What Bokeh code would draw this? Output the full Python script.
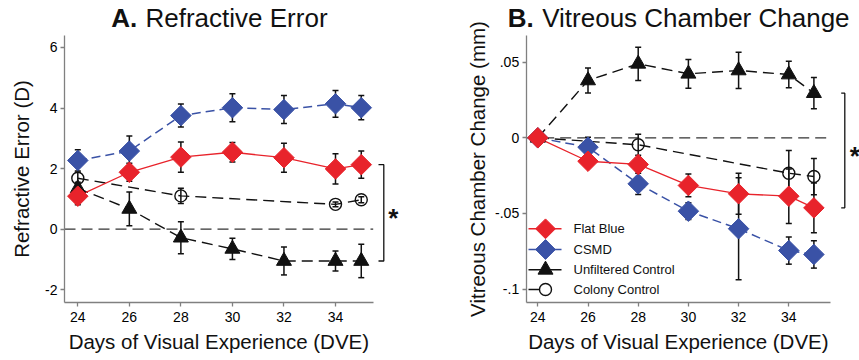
import math
from bokeh.plotting import figure
from bokeh.layouts import row
from bokeh.models import FixedTicker
from bokeh.embed import file_html
from bokeh.resources import INLINE
from bokeh.core.properties import value

# ---------------- data ----------------
days = [24, 26, 28, 30, 32, 34, 35]
colony_days = [24, 28, 34, 35]
x_ticks = [24, 26, 28, 30, 32, 34]

# A. Refractive error (D)
re_flat = [1.09, 1.88, 2.38, 2.54, 2.36, 1.99, 2.13]
re_flat_err = [0.28, 0.30, 0.50, 0.32, 0.48, 0.50, 0.45]
re_csmd = [2.27, 2.58, 3.75, 4.01, 3.95, 4.14, 4.01]
re_csmd_err = [0.35, 0.50, 0.38, 0.46, 0.46, 0.44, 0.40]
re_unf = [1.35, 0.67, -0.28, -0.65, -1.05, -1.05, -1.05]
re_unf_err = [0.20, 0.56, 0.53, 0.35, 0.46, 0.33, 0.55]
re_col = [1.68, 1.10, 0.82, 0.97]
re_col_err = [0.20, 0.25, 0.08, 0.10]
re_ticks = [-2, 0, 2, 4, 6]
re_tick_labels = ["-2", "0", "2", "4", "6"]

# B. Vitreous chamber change (mm)
vc_flat = [0.0, -0.0155, -0.0176, -0.0315, -0.0370, -0.0386, -0.0463]
vc_flat_err = [0.0, 0.004, 0.004, 0.0075, 0.0135, 0.018, 0.0165]
vc_csmd = [0.0, -0.0062, -0.0304, -0.0485, -0.0601, -0.0745, -0.0771]
vc_csmd_err = [0.0, 0.0065, 0.007, 0.0055, 0.0337, 0.009, 0.009]
vc_unf = [0.0, 0.0379, 0.0489, 0.0423, 0.0445, 0.0418, 0.0295]
vc_unf_err = [0.0, 0.0083, 0.011, 0.0095, 0.012, 0.0088, 0.0103]
vc_col = [0.0, -0.0046, -0.0234, -0.0256]
vc_col_err = [0.0, 0.007, 0.015, 0.012]
vc_ticks = [-0.1, -0.05, 0, 0.05]
vc_tick_labels = ["-.1", "-.05", "0", ".05"]

series_names = ["Flat Blue", "CSMD", "Unfiltered Control", "Colony Control"]
x_label = "Days of Visual Experience (DVE)"

RED = "#e8232b"
BLUE = "#3a52a6"
BLACK = "#111111"
AXIS = "#808080"
FONT = "Liberation Sans"
H = 360
MID = 0.3465  # font-box middle above the baseline, in em


class Panel:
    """Canvas-pixel <-> data helpers for one figure whose frame fills the canvas."""

    def __init__(self, width, x_at, x_px, x_scale, y_at, y_px, y_scale):
        self.w = width
        self.x0 = x_at - x_px / x_scale
        self.x1 = x_at + (width - x_px) / x_scale
        self.y1 = y_at + y_px / y_scale
        self.y0 = y_at - (H - y_px) / y_scale
        self.xs, self.ys = x_scale, y_scale

    def fx(self, px):
        return self.x0 + px / self.xs

    def fy(self, py):
        return self.y1 - py / self.ys


def make_fig(pn, ax_left_px, ax_right_px, ax_bottom_px, ax_top_px, yticks, ylabels):
    p = figure(width=pn.w, height=H, x_range=(pn.x0, pn.x1), y_range=(pn.y0, pn.y1),
               output_backend="svg", toolbar_location=None,
               min_border_left=0, min_border_right=0, min_border_top=0, min_border_bottom=0,
               background_fill_color="white", border_fill_color="white")
    p.outline_line_color = None
    p.grid.visible = False
    xa, ya = pn.fx(ax_left_px), pn.fy(ax_bottom_px)
    p.xaxis.fixed_location = ya
    p.yaxis.fixed_location = xa
    p.xaxis.bounds = (xa, pn.fx(ax_right_px))
    p.yaxis.bounds = (ya, pn.fy(ax_top_px))
    p.xaxis.ticker = FixedTicker(ticks=x_ticks)
    p.yaxis.ticker = FixedTicker(ticks=yticks)
    p.yaxis.major_label_overrides = {t: l for t, l in zip(yticks, ylabels)}
    for ax in [p.xaxis[0], p.yaxis[0]]:
        ax.axis_line_color = AXIS
        ax.axis_line_width = 1.3
        ax.major_tick_line_color = AXIS
        ax.major_tick_line_width = 1.3
        ax.major_tick_in = 0
        ax.major_tick_out = 4
        ax.minor_tick_line_color = None
        ax.major_label_text_font = FONT
        ax.major_label_text_font_size = "14px"
        ax.major_label_text_color = "black"
        ax.major_label_standoff = 3
    p.xaxis.major_label_standoff = 5
    return p, xa, ya


def txt(p, x, y, s, size, style="normal", align="left", angle=0.0):
    p.text(x=[x], y=[y], text=[s], text_font=value(FONT), text_font_size=value(f"{size}px"),
           text_font_style=style, text_align=align, text_baseline="middle",
           text_color=BLACK, angle=angle)


def errorbars(p, xs, ys, es):
    pts = [(x, y, e) for x, y, e in zip(xs, ys, es) if e > 0]
    xx = [a for a, _, _ in pts]
    lo = [b - c for _, b, c in pts]
    hi = [b + c for _, b, c in pts]
    p.segment(x0=xx, y0=lo, x1=xx, y1=hi, line_color=BLACK, line_width=1.5)
    p.scatter(xx + xx, lo + hi, marker="dash", size=6, line_color=BLACK, line_width=1.5)


def draw_panel(p, xbounds, flat, flat_e, csmd, csmd_e, unf, unf_e, col, col_e):
    p.line(list(xbounds), [0, 0], line_color="#333333", line_width=1.3, line_dash="11 6")
    p.line(colony_days, col, line_color=BLACK, line_width=1.4, line_dash="11 6")
    p.line(days, unf, line_color=BLACK, line_width=1.4, line_dash="11 6")
    p.line(days, csmd, line_color=BLUE, line_width=1.5, line_dash="9 5")
    p.line(days, flat, line_color=RED, line_width=1.3)
    errorbars(p, colony_days, col, col_e)
    errorbars(p, days, unf, unf_e)
    errorbars(p, days, csmd, csmd_e)
    errorbars(p, days, flat, flat_e)
    p.scatter(colony_days, col, marker="circle", size=12, fill_color=None,
              line_color=BLACK, line_width=1.4)
    p.scatter(days, unf, marker="triangle", size=15, fill_color=BLACK, line_color=BLACK)
    p.scatter(days, csmd, marker="square", angle=math.pi / 4, size=14.5,
              fill_color=BLUE, line_color=BLUE)
    p.scatter(days, flat, marker="square", angle=math.pi / 4, size=14.5,
              fill_color=RED, line_color=RED)


def bracket(p, pn, x_px, tick_px, top, bot, star_px):
    xb, xt = pn.fx(x_px), pn.fx(tick_px)
    p.line([xt, xb, xb, xt], [top, top, bot, bot], line_color=BLACK, line_width=1.3)
    mid = (top + bot) / 2
    # the asterisk ink sits ~0.21em above the font-box middle
    txt(p, pn.fx(star_px), mid - 0.21 * 26 / pn.ys, "*", 26, style="bold", align="center")


def decorate(p, pn, xbounds, ybounds, ylabel, ylabel_px, bold_px, rest_px, bold_txt, rest_txt):
    # title (baseline at 26.7px)
    ty = pn.fy(26.7 - MID * 26)
    txt(p, pn.fx(bold_px), ty, bold_txt, 26, style="bold")
    txt(p, pn.fx(rest_px), ty, rest_txt, 26)
    # axis titles, centred on the drawn axis lines
    txt(p, sum(xbounds) / 2, pn.fy(348.3 - MID * 20.5), x_label, 20.5, align="center")
    txt(p, pn.fx(ylabel_px - MID * 20.5), sum(ybounds) / 2, ylabel, 20.5, align="center",
        angle=math.pi / 2)


# ---------------- left panel (canvas x = page x) ----------------
pa = Panel(437, 24, 77.3, 25.77, 0, 228.7, 30.29)
p1, xa1, ya1 = make_fig(pa, 64, 372.7, 302, 35, re_ticks, re_tick_labels)
xb1 = (xa1, pa.fx(372.7))
yb1 = (ya1, pa.fy(35))
draw_panel(p1, xb1, re_flat, re_flat_err, re_csmd, re_csmd_err,
           re_unf, re_unf_err, re_col, re_col_err)
bracket(p1, pa, 383.3, 378.0, re_flat[-1], re_unf[-1], 392.7)
decorate(p1, pa, xb1, yb1, "Refractive Error (D)", 28.3, 110.7, 145.0, "A.", "Refractive Error")

# ---------------- right panel (canvas x = page x - 437) ----------------
pb = Panel(422, 24, 100.3, 25.1, 0, 137.3, 1513.3)
p2, xa2, ya2 = make_fig(pb, 88.7, 393.0, 302, 35, vc_ticks, vc_tick_labels)
xb2 = (xa2, pb.fx(393.0))
yb2 = (ya2, pb.fy(35))
draw_panel(p2, xb2, vc_flat, vc_flat_err, vc_csmd, vc_csmd_err,
           vc_unf, vc_unf_err, vc_col, vc_col_err)
bracket(p2, pb, 407.3, 403.7, vc_unf[-1], vc_flat[-1], 417.3)
decorate(p2, pb, xb2, yb2, "Vitreous Chamber Change (mm)", 47.3, 70.3, 104.7,
         "B.", "Vitreous Chamber Change")

# legend (drawn manually so markers keep their size/shape)
row_y = [228.3, 249.0, 269.3, 289.0]
lg_y = [pb.fy(v) for v in row_y]
lg_x0, lg_xm, lg_x1, lg_xt = pb.fx(91), pb.fx(108), pb.fx(124), pb.fx(136)
for i, yy in enumerate(lg_y):
    p2.line([lg_x0, lg_x1 if i < 3 else lg_xm], [yy, yy],
            line_color=[RED, BLUE, BLACK, BLACK][i], line_width=1.5)
p2.scatter([lg_xm], [lg_y[0]], marker="square", angle=math.pi / 4, size=14,
           fill_color=RED, line_color=RED)
p2.scatter([lg_xm], [lg_y[1]], marker="square", angle=math.pi / 4, size=14,
           fill_color=BLUE, line_color=BLUE)
p2.scatter([lg_xm], [lg_y[2]], marker="triangle", size=15, fill_color=BLACK, line_color=BLACK)
p2.scatter([lg_xm], [lg_y[3]], marker="circle", size=12, fill_color="white",
           line_color=BLACK, line_width=1.4)
p2.text(x=[lg_xt] * 4, y=lg_y, text=series_names, text_font=value(FONT),
        text_font_size=value("13px"), text_baseline="middle", text_align="left",
        text_color=BLACK)

layout = row(p1, p2)
open("out.html", "w").write(file_html(layout, INLINE))
